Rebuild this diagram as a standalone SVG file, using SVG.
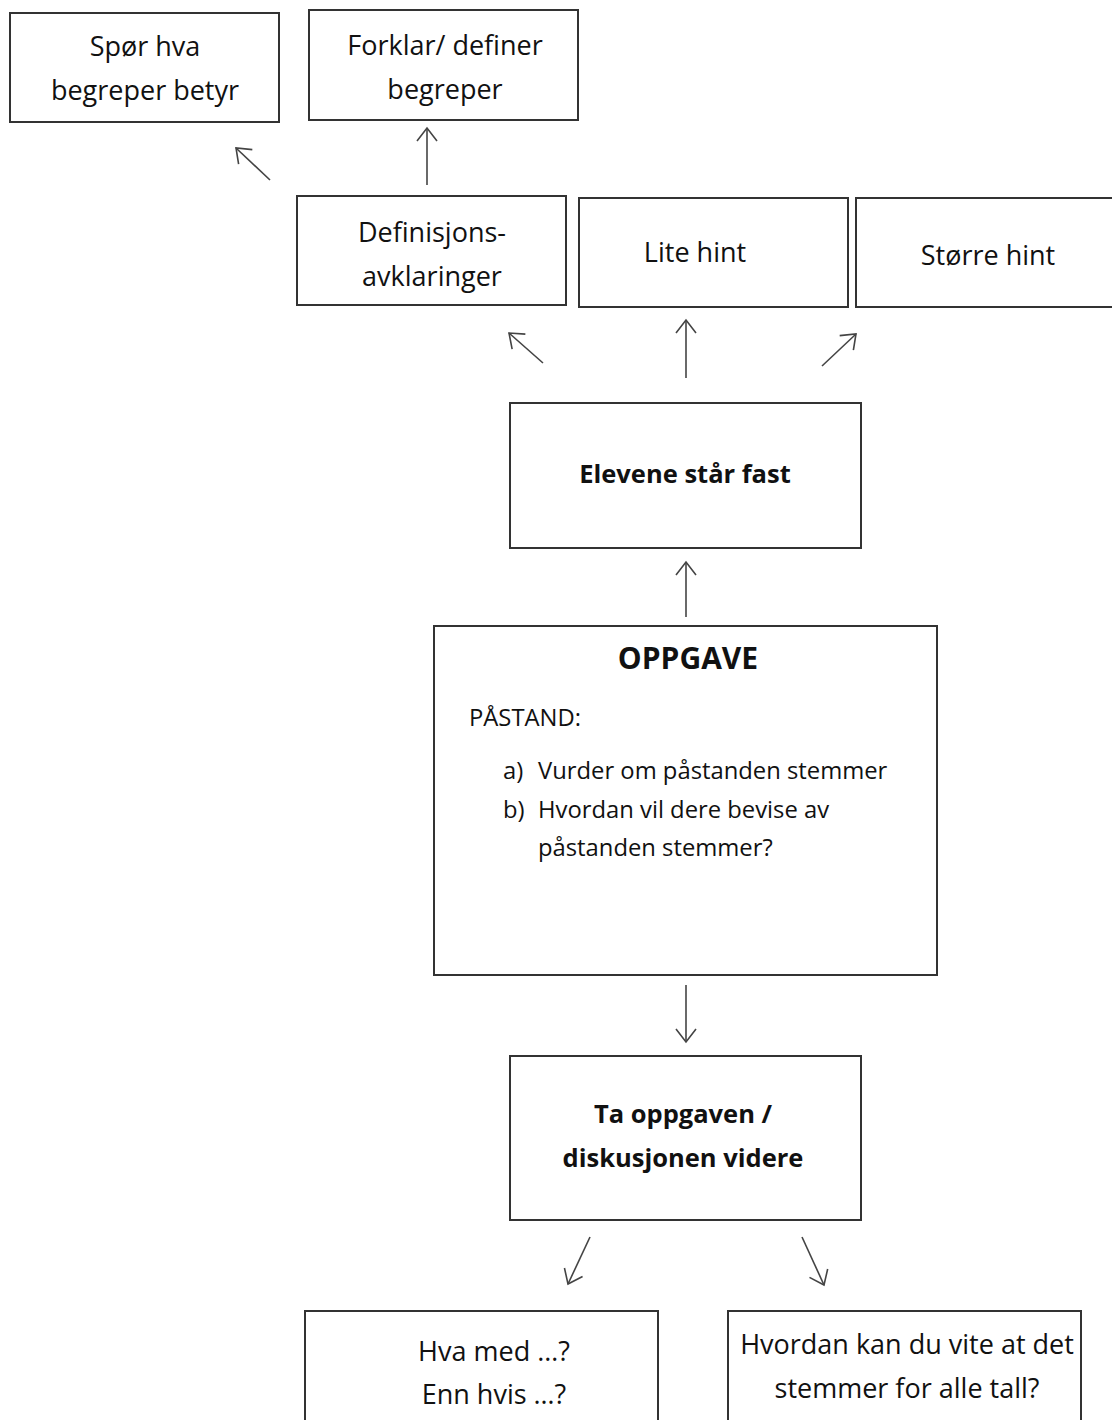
<svg xmlns="http://www.w3.org/2000/svg" width="1112" height="1420" viewBox="0 0 1112 1420">
<style>
.box{fill:#fff;stroke:#333;stroke-width:2}
.t{font-family:"Open Sans","Liberation Sans",sans-serif;font-size:27px;fill:#111;text-anchor:middle}
.s{font-size:23.8px}
.l{text-anchor:start}
.b{font-weight:bold;font-size:25.5px}
.c{fill:none;stroke:#444;stroke-width:1.6}
</style>
<defs>
<marker id="ah" viewBox="-15 -11 17 22" markerWidth="17" markerHeight="22" refX="0" refY="0" orient="auto" markerUnits="userSpaceOnUse">
<path d="M-13,-10 L0,0 L-13,10" fill="none" stroke="#444" stroke-width="1.6"/>
</marker>
</defs>
<rect width="1112" height="1420" fill="#fff"/>
<g id="n-spor"><rect class="box" x="10" y="13" width="269" height="109"/><text class="t" x="145" y="56">Spør hva</text><text class="t" x="145" y="100">begreper betyr</text></g>
<g id="n-forklar"><rect class="box" x="309" y="10" width="269" height="110"/><text class="t" x="445" y="55">Forklar/ definer</text><text class="t" x="445" y="99">begreper</text></g>
<g id="n-def"><rect class="box" x="297" y="196" width="269" height="109"/><text class="t" x="432" y="242">Definisjons-</text><text class="t" x="432" y="286">avklaringer</text></g>
<g id="n-lite"><rect class="box" x="579" y="198" width="269" height="109"/><text class="t" x="695" y="262">Lite hint</text></g>
<g id="n-storre"><rect class="box" x="856" y="198" width="270" height="109"/><text class="t" x="988" y="265">Større hint</text></g>
<g id="n-fast"><rect class="box" x="510" y="403" width="351" height="145"/><text class="t b" x="685" y="483">Elevene står fast</text></g>
<g id="n-oppgave"><rect class="box" x="434" y="626" width="503" height="349"/><text class="t b" x="688" y="669" style="font-size:30px">OPPGAVE</text>
<text class="t s l" x="469" y="726">PÅSTAND:</text>
<text class="t s l" x="503" y="779">a)</text><text class="t s l" x="538" y="779">Vurder om påstanden stemmer</text>
<text class="t s l" x="503" y="818">b)</text><text class="t s l" x="538" y="818">Hvordan vil dere bevise av</text>
<text class="t s l" x="538" y="856">påstanden stemmer?</text></g>
<g id="n-videre"><rect class="box" x="510" y="1056" width="351" height="164"/><text class="t b" x="683" y="1123">Ta oppgaven /</text><text class="t b" x="683" y="1167">diskusjonen videre</text></g>
<g id="n-hva"><rect class="box" x="305" y="1311" width="353" height="130"/><text class="t" x="494" y="1361">Hva med …?</text><text class="t" x="494" y="1404">Enn hvis …?</text></g>
<g id="n-hvordan"><rect class="box" x="728" y="1311" width="353" height="130"/><text class="t" x="907" y="1354">Hvordan kan du vite at det</text><text class="t" x="907" y="1398">stemmer for alle tall?</text></g>
<g id="connectors">
<line class="c" x1="270" y1="180" x2="236" y2="148" marker-end="url(#ah)"/>
<line class="c" x1="427" y1="185" x2="427" y2="128" marker-end="url(#ah)"/>
<line class="c" x1="543" y1="363" x2="509" y2="333" marker-end="url(#ah)"/>
<line class="c" x1="686" y1="378" x2="686" y2="320" marker-end="url(#ah)"/>
<line class="c" x1="822" y1="366" x2="856" y2="334" marker-end="url(#ah)"/>
<line class="c" x1="686" y1="617" x2="686" y2="562" marker-end="url(#ah)"/>
<line class="c" x1="686" y1="985" x2="686" y2="1042" marker-end="url(#ah)"/>
<line class="c" x1="590" y1="1237" x2="568" y2="1284" marker-end="url(#ah)"/>
<line class="c" x1="802" y1="1237" x2="824" y2="1285" marker-end="url(#ah)"/>
</g>
</svg>
